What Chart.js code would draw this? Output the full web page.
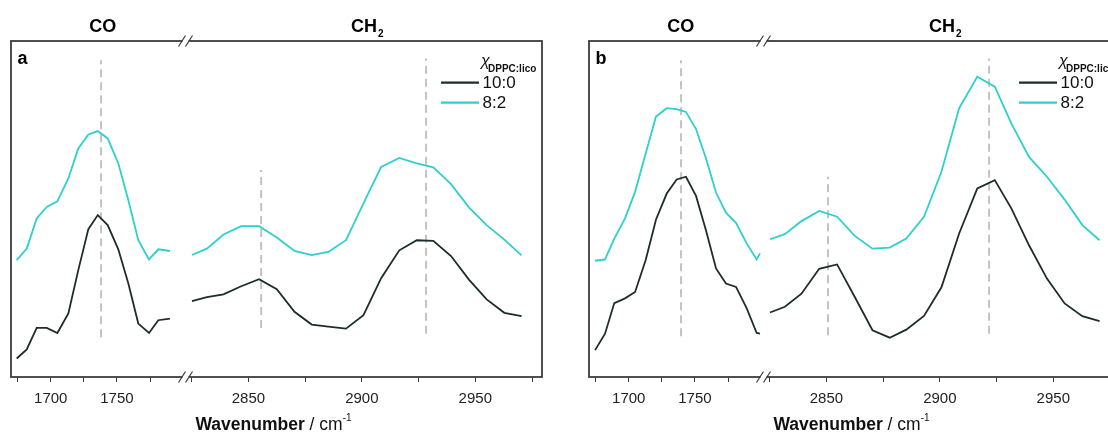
<!DOCTYPE html>
<html>
<head>
<meta charset="utf-8">
<script src="https://cdn.jsdelivr.net/npm/chart.js@4.4.1/dist/chart.umd.min.js"></script>
<style>
  html, body { margin: 0; padding: 0; background: #fff; }
  body { width: 1108px; height: 435px; overflow: hidden; position: relative; }
  .panel { position: absolute; top: 0; width: 578px; height: 435px; }
</style>
</head>
<body>
<div class="panel" style="left:0"><canvas id="chartA" width="578" height="435"></canvas></div>
<div class="panel" style="left:578px"><canvas id="chartB" width="578" height="435"></canvas></div>
<script>
// series labels + colours
const seriesLabels = ['10:0', '8:2'];
const seriesColors = ['#1d2c2c', '#2dcfcf'];

// tick positions (wavenumber, cm-1)
const coTicks = [1675, 1700, 1725, 1750, 1775];
const coTickLabels = [1700, 1750];
const chTicks = [2825, 2850, 2875, 2900, 2925, 2950, 2975];
const chTickLabels = [2850, 2900, 2950];

// panel a - CO region
const coX_a = [1674.3, 1681.9, 1689.4, 1697.0, 1705.0, 1713.3, 1720.8, 1728.4, 1735.5, 1743.0, 1751.0, 1758.6, 1766.1, 1774.2, 1781.2, 1790.0];
const coDark_a = [5.5, 8.2, 14.6, 14.6, 13.1, 18.9, 31.8, 44.0, 48.2, 45.2, 38.0, 27.8, 15.9, 13.1, 16.9, 17.4];
const coCyan_a = [34.8, 38.2, 47.2, 50.6, 52.3, 59.1, 68.0, 72.2, 73.2, 71.0, 63.6, 52.6, 40.7, 35.0, 38.0, 37.5];

// panel b - CO region
const coX_b = [1674.6, 1682.1, 1689.1, 1697.2, 1704.8, 1712.8, 1720.6, 1728.7, 1736.2, 1743.2, 1750.8, 1758.3, 1765.9, 1773.4, 1781.0, 1789.1, 1796.6, 1799.1];
const coDark_b = [8.0, 12.9, 22.0, 23.4, 25.3, 34.8, 46.9, 54.6, 58.8, 59.6, 53.9, 43.7, 32.3, 27.8, 26.8, 20.4, 13.1, 12.9];
const coCyan_b = [34.6, 35.0, 41.2, 47.2, 55.1, 66.5, 77.5, 80.0, 79.7, 78.9, 73.8, 65.1, 54.9, 48.9, 45.9, 39.7, 35.0, 36.8];

// CH2 region (same wavenumber grid in both panels)
const chX = [2825.1, 2831.7, 2839.0, 2846.8, 2854.7, 2862.5, 2870.3, 2877.9, 2885.2, 2893.0, 2900.7, 2908.5, 2916.5, 2924.2, 2931.5, 2939.3, 2947.2, 2955.0, 2962.8, 2970.4];
const chDark_a = [22.6, 23.8, 24.6, 27.0, 29.1, 26.1, 19.4, 15.6, 15.0, 14.4, 18.4, 29.4, 37.7, 40.7, 40.5, 36.0, 29.0, 23.1, 19.1, 18.1];
const chCyan_a = [36.3, 38.2, 42.4, 44.9, 44.9, 41.5, 37.5, 36.3, 37.2, 40.7, 51.7, 62.5, 65.2, 63.6, 62.4, 57.4, 50.5, 45.2, 40.9, 36.2];
const chDark_b = [19.2, 20.9, 24.8, 32.2, 33.5, 23.8, 13.9, 11.7, 14.1, 18.2, 26.7, 42.7, 56.1, 58.6, 50.2, 39.2, 29.3, 21.9, 18.1, 16.6];
const chCyan_b = [41.0, 42.5, 46.4, 49.4, 47.7, 42.0, 38.2, 38.5, 41.2, 47.7, 61.1, 80.0, 89.4, 86.4, 75.5, 65.5, 59.6, 52.8, 45.2, 40.7];

// dashed peak markers: [CO, CH2 sym, CH2 asym]
const refX_a = [1738.0, 2855.6, 2928.3];
const refTop_a = [94.3, 61.6, 94.8];
const refBot_a = [11.8, 14.6, 12.9];
const refX_b = [1739.5, 2850.7, 2921.7];
const refTop_b = [94.3, 59.6, 94.8];
const refBot_b = [12.1, 12.4, 12.9];

const FONT = '"Liberation Sans", Arial, Helvetica, sans-serif';

function toPts(xs, ys) {
  return xs.map((x, i) => ({ x: x, y: ys[i] }));
}

function curve(xs, ys, idx, axis) {
  return {
    label: seriesLabels[idx],
    data: toPts(xs, ys),
    xAxisID: axis,
    borderColor: seriesColors[idx],
    borderWidth: 1.8,
    pointRadius: 0,
    tension: 0,
    fill: false,
    order: 0
  };
}

function refLine(x, top, bot, axis) {
  return {
    label: 'ref',
    data: [{ x: x, y: bot }, { x: x, y: top }],
    xAxisID: axis,
    borderColor: '#c2c2c2',
    borderWidth: 2,
    borderDash: [8, 5],
    pointRadius: 0,
    order: 1
  };
}

const decor = {
  id: 'decor',
  afterDatasetsDraw(chart, args, opts) {
    const { ctx, chartArea: a, scales } = chart;
    ctx.save();
    // frame
    ctx.strokeStyle = '#3c3c3c';
    ctx.lineWidth = 1.8;
    ctx.strokeRect(a.left, a.top, a.right - a.left, a.bottom - a.top);
    // axis break marks
    const bx = scales.xco.right - 1;
    ctx.lineWidth = 1.2;
    [a.top, a.bottom].forEach(y => {
      ctx.fillStyle = '#fff';
      ctx.fillRect(bx - 3, y - 2, 6, 4);
      ctx.beginPath();
      [-3.5, 3.5].forEach(d => {
        ctx.moveTo(bx + d - 3.5, y + 5.5);
        ctx.lineTo(bx + d + 3.5, y - 5.5);
      });
      ctx.stroke();
    });

    ctx.fillStyle = '#000';
    ctx.textBaseline = 'alphabetic';
    // panel letter
    ctx.font = 'bold 18px ' + FONT;
    ctx.textAlign = 'left';
    ctx.fillText(opts.letter, a.left + 6.5, a.top + 22.5);

    // region titles
    const coC = (scales.xco.left + scales.xco.right) / 2 + 4;
    ctx.textAlign = 'center';
    ctx.fillText('CO', coC, 32);
    const chC = (scales.xch.left + scales.xch.right) / 2 + 3;
    const wCH = ctx.measureText('CH').width;
    ctx.font = 'bold 10px ' + FONT;
    const w2 = ctx.measureText('2').width;
    const chL = chC - (wCH + w2 + 1) / 2;
    ctx.textAlign = 'left';
    ctx.font = 'bold 18px ' + FONT;
    ctx.fillText('CH', chL, 32);
    ctx.font = 'bold 10px ' + FONT;
    ctx.fillText('2', chL + wCH + 1, 37);

    // x axis title
    ctx.font = 'bold 17.5px ' + FONT;
    const t1 = 'Wavenumber';
    const w1 = ctx.measureText(t1).width;
    ctx.font = '17.5px ' + FONT;
    const t2 = ' / cm';
    const wt2 = ctx.measureText(t2).width;
    ctx.font = '10px ' + FONT;
    const t3 = '-1';
    const wt3 = ctx.measureText(t3).width;
    let tx = (a.left + a.right) / 2 - 3 - (w1 + wt2 + wt3) / 2;
    const ty = 430;
    ctx.font = 'bold 17.5px ' + FONT;
    ctx.fillStyle = '#111';
    ctx.fillText(t1, tx, ty);
    tx += w1;
    ctx.font = '17.5px ' + FONT;
    ctx.fillText(t2, tx, ty);
    tx += wt2;
    ctx.font = '10px ' + FONT;
    ctx.fillText(t3, tx, ty - 9);

    // legend
    const lx = a.right - 61;
    ctx.fillStyle = '#111';
    ctx.font = 'italic 16px ' + FONT;
    ctx.fillText('\u03C7', lx, a.top + 25);
    ctx.font = 'bold 10px ' + FONT;
    ctx.fillText('DPPC:lico', lx + 7, a.top + 30.5);
    const items = chart.data.datasets.slice(0, 2);
    items.forEach((ds, i) => {
      const y = a.top + 41.7 + i * 20;
      ctx.strokeStyle = ds.borderColor;
      ctx.lineWidth = 2.2;
      ctx.beginPath();
      ctx.moveTo(a.right - 101, y);
      ctx.lineTo(a.right - 63, y);
      ctx.stroke();
      ctx.fillStyle = '#111';
      ctx.font = '17px ' + FONT;
      ctx.textBaseline = 'middle';
      ctx.fillText(ds.label, a.right - 59.5, y + 1);
      ctx.textBaseline = 'alphabetic';
    });
    ctx.restore();
  }
};

function xAxis(ticks, labels, min, max, weight) {
  return {
    type: 'linear',
    position: 'bottom',
    stack: 'wn',
    stackWeight: weight,
    min: min,
    max: max,
    afterBuildTicks: s => { s.ticks = ticks.map(v => ({ value: v })); },
    afterFit: s => { s.height = 30; },
    border: { display: false },
    grid: {
      drawOnChartArea: false,
      drawTicks: true,
      tickLength: 5,
      color: '#3c3c3c',
      lineWidth: 1
    },
    ticks: {
      autoSkip: false,
      maxRotation: 0,
      padding: 8,
      color: '#222',
      font: { family: FONT, size: 15 },
      callback: v => labels.includes(v) ? String(v) : ''
    }
  };
}

function makePanel(id, letter, coX, coDark, coCyan, chDark, chCyan, refX, refTop, refBot) {
  const datasets = [
    curve(coX, coDark, 0, 'xco'),
    curve(coX, coCyan, 1, 'xco'),
    curve(chX, chDark, 0, 'xch'),
    curve(chX, chCyan, 1, 'xch'),
    refLine(refX[0], refTop[0], refBot[0], 'xco'),
    refLine(refX[1], refTop[1], refBot[1], 'xch'),
    refLine(refX[2], refTop[2], refBot[2], 'xch')
  ];
  return new Chart(document.getElementById(id), {
    type: 'line',
    data: { datasets: datasets },
    options: {
      responsive: false,
      animation: false,
      layout: { padding: { left: 11, right: 36, top: 41, bottom: 28 } },
      plugins: {
        legend: { display: false },
        tooltip: { enabled: false },
        decor: { letter: letter }
      },
      scales: {
        xco: xAxis(coTicks, coTickLabels, 1670.0, 1802.5, 175.6),
        xch: xAxis(chTicks, chTickLabels, 2822.7, 2979.4, 355.7),
        y: { min: 0, max: 100, display: false }
      }
    },
    plugins: [decor]
  });
}

makePanel('chartA', 'a', coX_a, coDark_a, coCyan_a, chDark_a, chCyan_a, refX_a, refTop_a, refBot_a);
makePanel('chartB', 'b', coX_b, coDark_b, coCyan_b, chDark_b, chCyan_b, refX_b, refTop_b, refBot_b);
</script>
</body>
</html>
